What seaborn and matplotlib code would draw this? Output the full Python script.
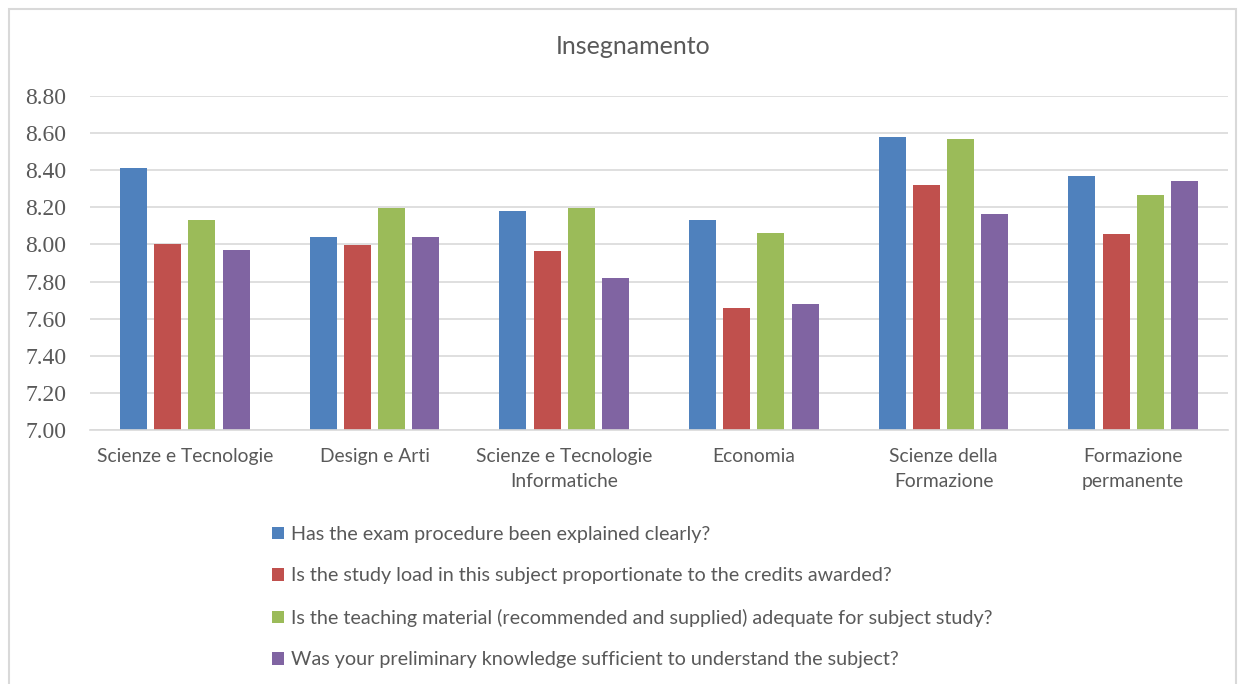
import matplotlib
matplotlib.use("Agg")
import matplotlib.pyplot as plt
import seaborn as sns
import pandas as pd
from matplotlib.patches import Rectangle
from matplotlib.ticker import FormatStrFormatter

categories = ["Scienze e Tecnologie", "Design e Arti", "Scienze e Tecnologie\nInformatiche",
              "Economia", "Scienze della\nFormazione", "Formazione\npermanente"]
series = ["Has the exam procedure been explained clearly?",
          "Is the study load in this subject proportionate to the credits awarded?",
          "Is the teaching material (recommended and supplied) adequate for subject study?",
          "Was your preliminary knowledge sufficient to understand the subject?"]
exam = [8.41, 8.04, 8.18, 8.13, 8.58, 8.37]
load = [8.00, 7.995, 7.965, 7.66, 8.32, 8.055]
material = [8.13, 8.195, 8.195, 8.06, 8.57, 8.265]
knowledge = [7.97, 8.04, 7.82, 7.68, 8.165, 8.34]
yticks = [7.0, 7.2, 7.4, 7.6, 7.8, 8.0, 8.2, 8.4, 8.6, 8.8]
colors = ["#4F81BD", "#C0504D", "#9BBB59", "#8064A2"]

rows = []
for s, vals in zip(series, [exam, load, material, knowledge]):
    for c, v in zip(categories, vals):
        rows.append({"cat": c, "series": s, "value": v})
df = pd.DataFrame(rows)

sns.set_theme(style="white")
plt.rcParams['font.family'] = ['Lato', 'DejaVu Sans']

W, H = 1245, 684
fig = plt.figure(figsize=(W / 100, H / 100), dpi=100)
ax = fig.add_axes([90 / W, 1 - 430 / H, 1138 / W, 334 / H])

sns.barplot(data=df, x="cat", y="value", hue="series", hue_order=series,
            order=categories, palette=colors, width=0.72, gap=0.21,
            ax=ax, legend=True, linewidth=0, saturation=1)

ax.set_ylim(7.0, 8.8)
ax.set_xlim(-0.5, len(categories) - 0.5)
ax.set_yticks(yticks)
ax.yaxis.set_major_formatter(FormatStrFormatter("%.2f"))
ax.grid(axis="y", color="#D9D9D9", linewidth=1.2)
ax.set_axisbelow(True)
for sp in ["top", "right", "left"]:
    ax.spines[sp].set_visible(False)
ax.spines["bottom"].set_color("#D9D9D9")
ax.spines["bottom"].set_linewidth(1.2)
ax.set_xlabel("")
ax.set_ylabel("")
ax.tick_params(axis="both", length=0)
ax.tick_params(axis="y", pad=17)
ax.tick_params(axis="x", pad=13)
for lab in ax.get_yticklabels():
    lab.set_fontfamily("Liberation Serif")
    lab.set_fontsize(17)
    lab.set_color("#595959")
for lab in ax.get_xticklabels():
    lab.set_fontsize(13.9)
    lab.set_color("#595959")
    lab.set_linespacing(1.6)

handles, labels = ax.get_legend_handles_labels()
ax.get_legend().remove()
fig.legend(handles, labels, loc="upper left", bbox_to_anchor=(272 / W, 1 - 526 / H),
           frameon=False, fontsize=14.2, handlelength=0.62, handleheight=0.62,
           handletextpad=0.35, labelspacing=1.24, labelcolor="#595959", borderpad=0,
           borderaxespad=0)

fig.text(633 / W, 1 - 47 / H, "Insegnamento", ha="center", va="center",
         fontsize=18, color="#595959")

fig.patches.append(Rectangle((9 / W, -0.05), (1236 - 9) / W, 1.05 - 9 / H,
                             transform=fig.transFigure, fill=False,
                             edgecolor="#D9D9D9", linewidth=1.5))

fig.savefig("out.png", dpi=100)
